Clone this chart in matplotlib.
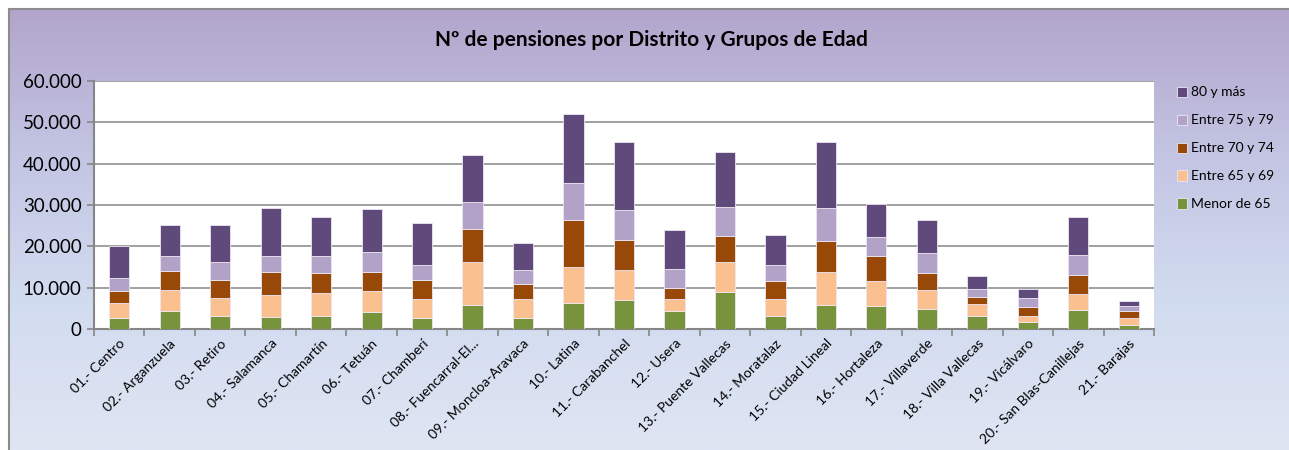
import numpy as np
import matplotlib
matplotlib.use("Agg")
import matplotlib.pyplot as plt
from matplotlib.ticker import FuncFormatter, FixedLocator
from matplotlib.colors import LinearSegmentedColormap

plt.rcParams['font.family'] = ['Lato', 'DejaVu Sans']

distritos = ['01.- Centro', '02.- Arganzuela', '03.- Retiro', '04.- Salamanca',
             '05.- Chamartín', '06.- Tetuán', '07.- Chamberí', '08.- Fuencarral-El...',
             '09.- Moncloa-Aravaca', '10.- Latina', '11.- Carabanchel', '12.- Usera',
             '13.- Puente Vallecas', '14.- Moratalaz', '15.- Ciudad Lineal', '16.- Hortaleza',
             '17.- Villaverde', '18.- Villa Vallecas', '19.- Vicálvaro',
             '20.- San Blas-Canillejas', '21.- Barajas']

menor65 = [2750, 4360, 3150, 2910, 3150, 4120, 2750, 5730, 2665, 6300, 7105,
           4360, 8965, 3150, 5730, 5570, 4925, 3150, 1700, 4520, 890]
e65_69 = [3630, 5010, 4280, 5330, 5570, 5090, 4520, 10420, 4600, 8800, 7190,
          2910, 7185, 4040, 8075, 6055, 4440, 2990, 1535, 4040, 1775]
e70_74 = [2750, 4680, 4440, 5570, 4845, 4680, 4600, 8075, 3630, 11305, 7350,
          2745, 6380, 4440, 7430, 6055, 4200, 1615, 2020, 4520, 1695]
e75_79 = [3310, 3630, 4280, 3880, 4040, 4765, 3555, 6380, 3390, 8800, 7105,
          4600, 7025, 3875, 8155, 4685, 4765, 1940, 2180, 4765, 1130]
m80 = [7590, 7590, 9125, 11630, 9530, 10340, 10340, 11385, 6620, 16800, 16390,
       9370, 13245, 7190, 15745, 7830, 8155, 3150, 2180, 9285, 1375]

series = [('Menor de 65', menor65, '#77933c'),
          ('Entre 65 y 69', e65_69, '#fac090'),
          ('Entre 70 y 74', e70_74, '#984807'),
          ('Entre 75 y 79', e75_79, '#b3a2c7'),
          ('80 y más', m80, '#604a7b')]

W, H = 1289, 450
fig = plt.figure(figsize=(W / 100, H / 100), dpi=100)
fig.patch.set_facecolor('white')

# fondo degradado del grafico
bg = fig.add_axes([9 / W, 0, 1 - 9 / W, (H - 9) / H])
cmap = LinearSegmentedColormap.from_list('fondo', ['#b2a5cc', '#c3c5e3', '#d2dcf0', '#dfe5f3'])
grad = np.linspace(0, 1, 256).reshape(-1, 1)
bg.imshow(grad, aspect='auto', cmap=cmap, extent=[0, 1, 0, 1], origin='upper')
bg.set_xlim(0, 1)
bg.set_ylim(0, 1)
bg.set_xticks([])
bg.set_yticks([])
for s in ['right', 'bottom']:
    bg.spines[s].set_visible(False)
for s in ['top', 'left']:
    bg.spines[s].set_color('#8c8c8c')
    bg.spines[s].set_linewidth(1.5)

ax = fig.add_axes([94 / W, (H - 329) / H, (1154 - 94) / W, (329 - 81) / H])
ax.set_facecolor('white')
x = np.arange(len(distritos))
bottom = np.zeros(len(distritos))
handles = []
for nombre, vals, color in series:
    b = ax.bar(x, vals, width=0.4, bottom=bottom, color=color, edgecolor='#ece6f2',
               linewidth=0.6, label=nombre, zorder=3)
    handles.append(b)
    bottom += np.array(vals)

ax.set_xlim(-0.5, len(distritos) - 0.5)
ax.set_ylim(0, 60000)
ax.set_yticks(np.arange(0, 60001, 10000))
ax.yaxis.set_major_formatter(FuncFormatter(lambda v, p: f'{int(v):,}'.replace(',', '.')))
ax.yaxis.grid(True, color='#868686', linewidth=1.1, zorder=0)
ax.tick_params(axis='y', labelsize=13.5, length=5, color='#868686', width=1.2, pad=4)

ax.set_xticks(x)
ax.set_xticklabels(distritos, rotation=45, ha='right', rotation_mode='anchor', fontsize=10)
ax.tick_params(axis='x', length=0, pad=6)
ax.xaxis.set_minor_locator(FixedLocator(np.arange(-0.5, len(distritos), 1)))
ax.tick_params(axis='x', which='minor', length=5, color='#868686', width=1.2)

for s in ['top', 'right']:
    ax.spines[s].set_visible(False)
for s in ['left', 'bottom']:
    ax.spines[s].set_color('#868686')
    ax.spines[s].set_linewidth(1.5)

fig.text(651 / W, 1 - 40 / H, 'Nº de pensiones por Distrito y Grupos de Edad',
         ha='center', va='center', fontsize=15, fontweight='bold')

fig.legend(handles[::-1], [s[0] for s in series][::-1], loc='upper left',
           bbox_to_anchor=(1164 / W, 1 - 74 / H), frameon=False, fontsize=10,
           handlelength=0.75, handleheight=0.75, handletextpad=0.3, labelspacing=1.15)

fig.savefig('out.png', dpi=100)
plt.close(fig)
